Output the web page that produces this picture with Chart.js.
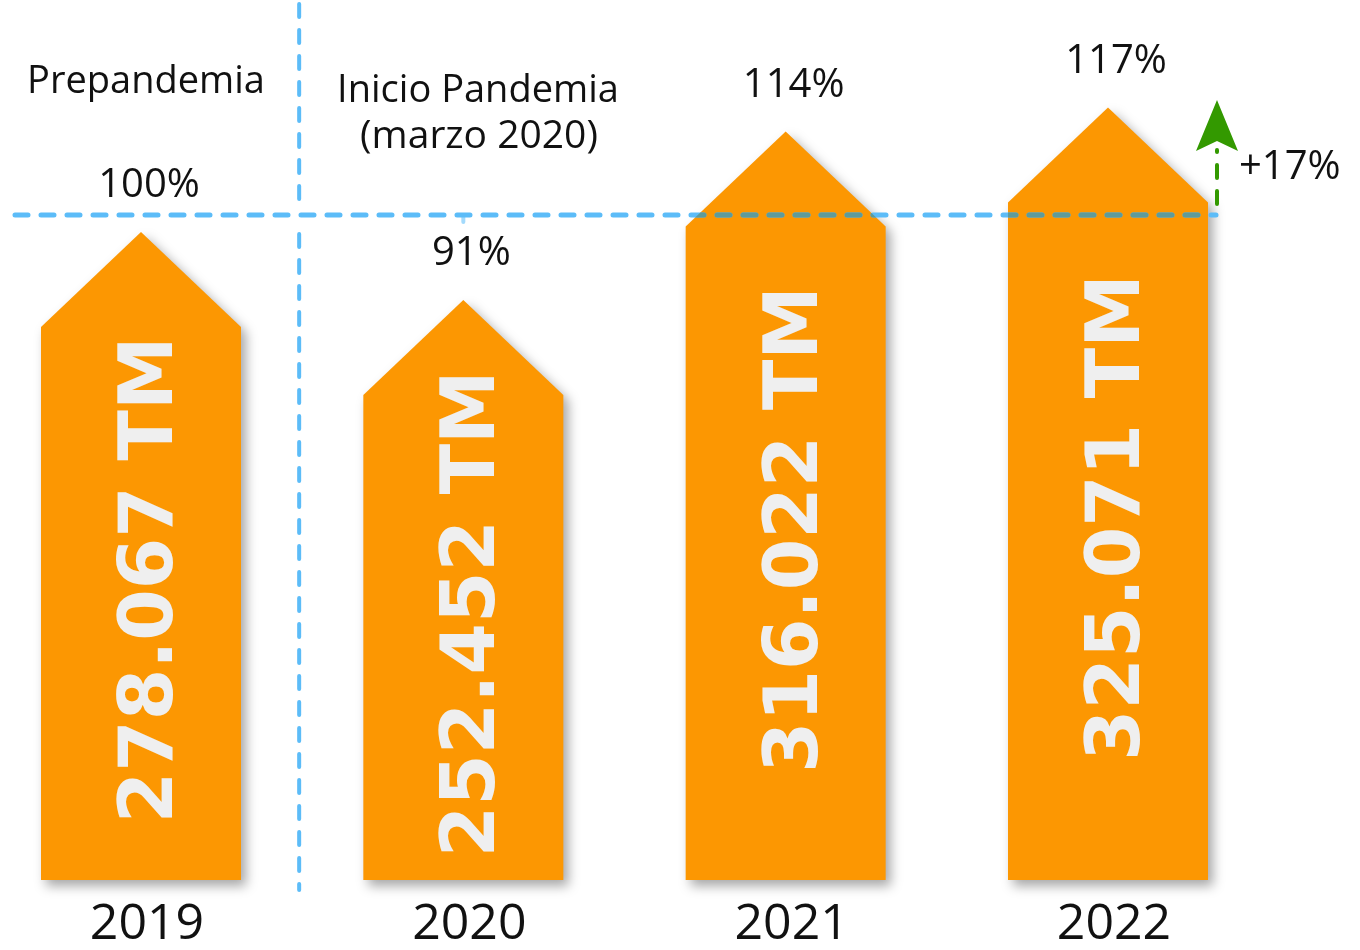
<!DOCTYPE html>
<html>
<head>
<meta charset="utf-8">
<title>Toneladas 2019-2022</title>
<script src="https://cdn.jsdelivr.net/npm/chart.js@4.4.0/dist/chart.umd.min.js"></script>
<style>
  body { margin: 0; background: #fff; }
  #contenedor { width: 1360px; height: 950px; position: relative; }
</style>
</head>
<body>
<div id="contenedor"><canvas id="grafico"></canvas></div>
<script>
// datos
var anios = ['2019', '2020', '2021', '2022'];
var toneladas = [278067, 252452, 316022, 325071];
var porcentajes = [100, 91, 114, 117];
var variacion = '+17%';
var tituloPre = ['Prepandemia'];
var tituloPandemia = ['Inicio Pandemia', '(marzo 2020)'];

var naranja = '#fc9702';
var azul = '#5cbcf8';
var verde = '#339900';
var fuente = '"Open Sans", sans-serif';

function formatoMiles(n){
	return String(n).replace(/\B(?=(\d{3})+(?!\d))/g, '.');
}

// forma de flecha (rectangulo + punta)
function caminoFlecha(ctx, x, y, w, fondo, punta){
	ctx.moveTo(x, y);
	ctx.lineTo(x + w, y + punta);
	ctx.lineTo(x + w, fondo);
	ctx.lineTo(x - w, fondo);
	ctx.lineTo(x - w, y + punta);
	ctx.closePath();
}

function lineaPunteada(ctx, x1, y1, x2, y2, color, ancho){
	ctx.save();
	ctx.strokeStyle = color;
	ctx.lineWidth = ancho;
	ctx.lineCap = 'round';
	ctx.setLineDash([13, 13]);
	ctx.beginPath();
	ctx.moveTo(x1, y1);
	ctx.lineTo(x2, y2);
	ctx.stroke();
	ctx.restore();
}

var flechas = {
	id: 'flechas',
	afterDatasetsDraw: function(chart){
		var ctx = chart.ctx;
		var meta = chart.getDatasetMeta(0);
		var fondo = chart.chartArea.bottom;
		var punta = 95;
		var yBase = 215;

		// lineas divisorias
		var xDiv = (meta.data[0].x + meta.data[1].x) / 2 - 3;
		lineaPunteada(ctx, xDiv, 4, xDiv, 204, azul, 4);
		lineaPunteada(ctx, xDiv, 234, xDiv, 890, azul, 4);
		var b1 = meta.data[1];
		lineaPunteada(ctx, b1.x, yBase, b1.x, b1.y - 78, '#a3dafc', 4);

		// flechas naranjas
		meta.data.forEach(function(bar){
			var w = bar.width / 2;
			ctx.save();
			ctx.shadowColor = 'rgba(0,0,0,0.35)';
			ctx.shadowBlur = 12;
			ctx.shadowOffsetX = 5;
			ctx.shadowOffsetY = 6;
			ctx.beginPath();
			caminoFlecha(ctx, bar.x, bar.y, w, fondo, punta);
			ctx.fillStyle = naranja;
			ctx.fill();
			ctx.restore();
		});

		// texto vertical dentro de cada flecha
		meta.data.forEach(function(bar, i){
			var centro = (bar.y + punta / 2 + fondo) / 2;
			ctx.save();
			ctx.translate(bar.x + 4, centro);
			ctx.rotate(-Math.PI / 2);
			ctx.font = 'bold 74px "DejaVu Sans", sans-serif';
			ctx.fillStyle = '#efefef';
			ctx.textAlign = 'center';
			ctx.textBaseline = 'alphabetic';
			ctx.fillText(formatoMiles(toneladas[i]) + ' TM', 0, 27);
			ctx.restore();
		});

		// linea base 100%
		var xFin = meta.data[3].x + meta.data[3].width / 2 + 8;
		lineaPunteada(ctx, 15, yBase, xFin, yBase, azul, 5);
		ctx.save();
		ctx.beginPath();
		meta.data.forEach(function(bar){
			caminoFlecha(ctx, bar.x, bar.y, bar.width / 2, fondo, punta);
		});
		ctx.clip();
		lineaPunteada(ctx, 15, yBase, xFin, yBase, '#5f9b9a', 5);
		ctx.restore();

		// flecha verde +17%
		var xv = xFin + 1;
		lineaPunteada(ctx, xv, 204, xv, 150, verde, 4);
		ctx.save();
		ctx.fillStyle = verde;
		ctx.beginPath();
		ctx.moveTo(xv, 100);
		ctx.lineTo(xv + 21, 151);
		ctx.lineTo(xv, 141);
		ctx.lineTo(xv - 21, 151);
		ctx.closePath();
		ctx.fill();
		ctx.restore();

		// textos
		ctx.save();
		ctx.fillStyle = '#111';
		ctx.textAlign = 'center';
		ctx.textBaseline = 'middle';
		ctx.font = '38px ' + fuente;
		ctx.fillText(tituloPre[0], 146, 82);
		ctx.fillText(tituloPandemia[0], 478, 91);
		ctx.font = '39px ' + fuente;
		ctx.fillText(tituloPandemia[1], 479, 137);

		ctx.font = '40px ' + fuente;
		meta.data.forEach(function(bar, i){
			ctx.fillText(porcentajes[i] + '%', bar.x + 8, bar.y - 46);
		});
		ctx.textAlign = 'left';
		ctx.fillText(variacion, xv + 22, 168);

		ctx.textAlign = 'center';
		ctx.font = '50px ' + fuente;
		meta.data.forEach(function(bar, i){
			ctx.fillText(anios[i], bar.x + 6, 925);
		});
		ctx.restore();
	}
};

var ctx = document.getElementById('grafico');
var grafico = new Chart(ctx, {
	type: 'bar',
	data: {
		labels: anios,
		datasets: [{
			data: toneladas,
			backgroundColor: 'rgba(0,0,0,0)',
			borderWidth: 0,
			barThickness: 200
		}]
	},
	options: {
		responsive: true,
		maintainAspectRatio: false,
		animation: false,
		layout: { padding: { left: 141, right: 252, top: 0, bottom: 70 } },
		plugins: { legend: { display: false }, tooltip: { enabled: false } },
		scales: {
			x: { display: false, offset: false },
			y: { display: false, min: 33550, max: 365620 }
		}
	},
	plugins: [flechas]
});
</script>
</body>
</html>
